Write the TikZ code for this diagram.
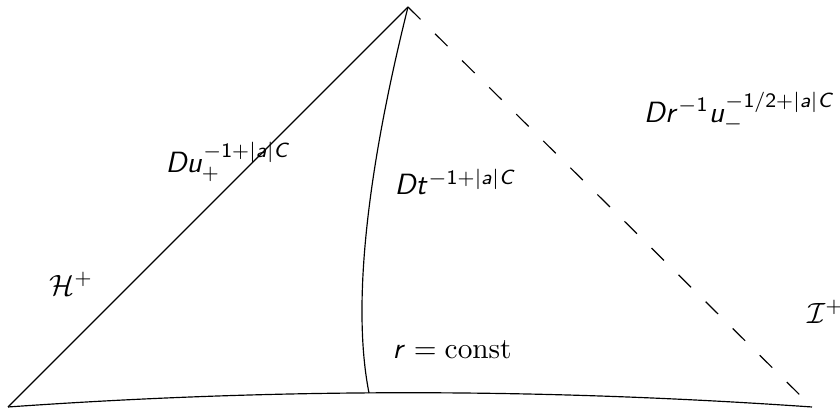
\documentclass[tikz,border=0pt]{standalone}
\usepackage{amsmath}
% sans-serif slanted math letters, serif text
\DeclareSymbolFont{letters}{OT1}{cmss}{m}{sl}
\DeclareSymbolFont{operators}{OT1}{cmss}{m}{n}
\mathcode`/="002F
\usetikzlibrary{positioning}

\begin{document}
\begin{tikzpicture}[
    x=1.2cm, y=1.2cm,
    boundary/.style={thin},
    nullinf/.style={thin, dash pattern=on 6pt off 7pt},
    lbl/.style={inner sep=1pt, anchor=west}
]
\useasboundingbox (-4.08,-0.01) rectangle (4.32,4.07);

% corners of the region
\coordinate (top)   at (0,4);
\coordinate (left)  at (-4,0);
\coordinate (right) at (4.04,0);
\coordinate (foot)  at (-0.39,0.14);

\draw[boundary] (left) -- (top);
\draw[nullinf]  (top) -- (right);
\draw[boundary] (left) .. controls (-1.3,0.19) and (1.3,0.19) .. (right);
% the curve r = const
\draw[boundary] (top) .. controls (-0.3,2.8) and (-0.6,1.2) .. (foot);

% labels
\node[lbl] (hplus)  at (-3.62,1.23) {$\mathcal{H}^+$};
\node[lbl] (iplus)  at (3.96,0.95)  {$\mathcal{I}^+$};
\node[lbl] (decayH) at (-2.46,2.45) {$Du_+^{-1+|a|C}$};
\node[lbl] (decayT) at (-0.17,2.25) {$Dt^{-1+|a|C}$};
\node[lbl, anchor=east] (decayI) at (4.31,2.95) {$Dr^{-1}u_-^{-1/2+|a|C}$};
\node[lbl] (rconst) at (-0.19,0.57) {$r = \text{const}$};

\end{tikzpicture}
\end{document}
